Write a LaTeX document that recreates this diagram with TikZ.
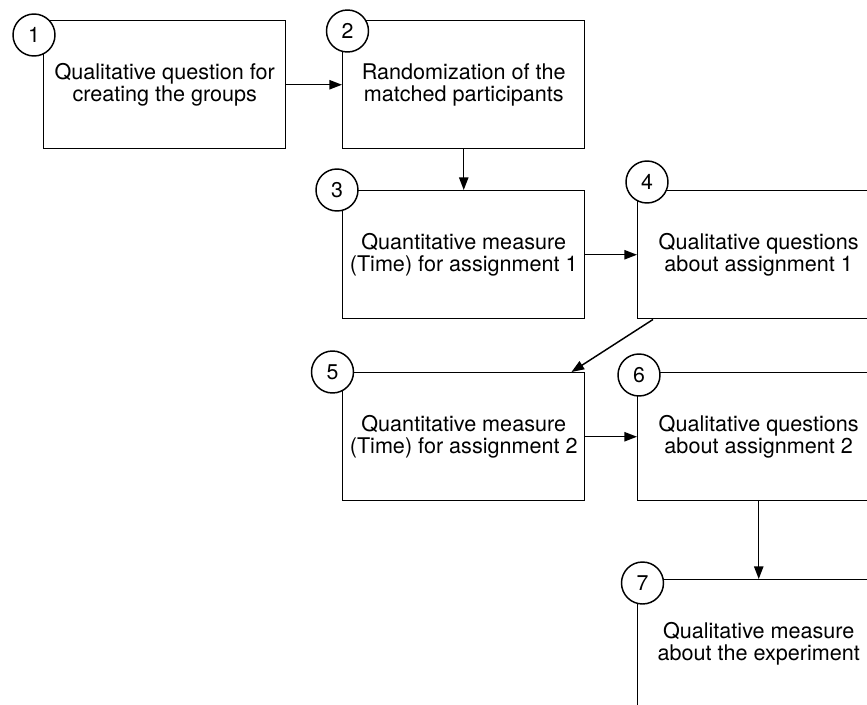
\documentclass[tikz,border=0pt]{standalone}
\usepackage{fontspec}
\setmainfont{TeX Gyre Heros}
\usetikzlibrary{arrows.meta,calc}

\begin{document}
\begin{tikzpicture}[x=0.75pt,y=-0.75pt,
stepbox/.style={draw,line width=1.1pt,minimum width=181.5pt,minimum height=96pt,anchor=north west,align=center,inner sep=0pt,font=\fontsize{16.2}{16.8}\selectfont},
num/.style={draw,fill=white,circle,line width=1.1pt,minimum size=31.5pt,inner sep=0pt,font=\fontsize{16}{18}\selectfont},
>={Triangle[length=9.5pt,width=7pt]}]
\useasboundingbox (0,0) rectangle (867,704);
\clip (0,0) rectangle (867,704);
\node[stepbox] (b1) at (43,20) {Qualitative question for\\creating the groups};
\node[stepbox] (b2) at (342,20) {Randomization of the\\matched participants};
\node[stepbox] (b3) at (342,190) {Quantitative measure\\(Time) for assignment 1};
\node[stepbox] (b4) at (637,190) {Qualitative questions\\about assignment 1};
\node[stepbox] (b5) at (342,372) {Quantitative measure\\(Time) for assignment 2};
\node[stepbox] (b6) at (637,372) {Qualitative questions\\about assignment 2};
\node[stepbox] (b7) at (637,579) {Qualitative measure\\about the experiment};
\node[num] (c1) at ($(b1.north west)+(-9,15)$) {1};
\node[num] (c2) at ($(b2.north west)+(5.5,11)$) {2};
\node[num] (c3) at ($(b3.north west)+(-5,0)$) {3};
\node[num] (c4) at ($(b4.north west)+(10,-8)$) {4};
\node[num] (c5) at ($(b5.north west)+(-9.5,0)$) {5};
\node[num] (c6) at ($(b6.north west)+(2,3)$) {6};
\node[num] (c7) at ($(b7.north west)+(5.5,4)$) {7};
\path[->,line width=1.1pt]
(b1) edge (b2)
(b2) edge (b3)
(b3) edge (b4)
($(b4.south west)+(16,0)$) edge ($(b5.north east)+(-14,0)$)
(b5) edge (b6)
(b6) edge (b7)
;
\end{tikzpicture}
\end{document}
